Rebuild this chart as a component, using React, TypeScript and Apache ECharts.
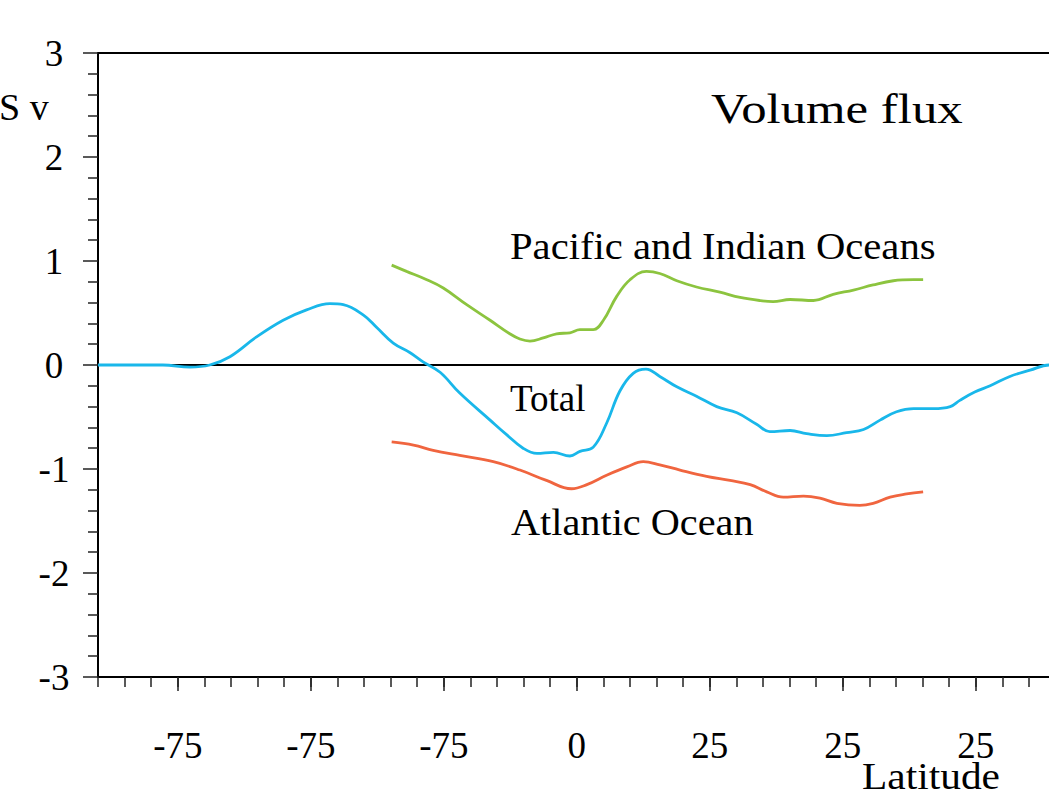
import React, { useEffect, useRef } from "react";
import * as echarts from "echarts";

// Latitude (deg) / volume flux (Sv) pairs
const totalFlux: [number, number][] = [
  [-90, 0], [-84, 0], [-77.8, 0], [-72.7, -0.02], [-69, 0], [-65.2, 0.08],
  [-60.2, 0.27], [-55.2, 0.43], [-50.8, 0.53], [-46.4, 0.59], [-43.9, 0.58],
  [-40.1, 0.48], [-37.6, 0.36], [-34.5, 0.21], [-31.4, 0.12], [-28.9, 0.03],
  [-25.7, -0.07], [-22, -0.27], [-16.3, -0.53], [-13.2, -0.67], [-10.1, -0.8],
  [-7.5, -0.85], [-4.4, -0.84], [-1.3, -0.875], [0.6, -0.83], [3.1, -0.79],
  [5.6, -0.56], [8.1, -0.25], [10.6, -0.08], [13, -0.04], [15.6, -0.11],
  [18.8, -0.21], [22.5, -0.3], [26.3, -0.4], [30.1, -0.46], [33.8, -0.57],
  [36.3, -0.64], [40.1, -0.63], [43.2, -0.66], [47, -0.68], [50.7, -0.65],
  [53.9, -0.62], [57, -0.53], [60.1, -0.45], [63.3, -0.42], [67, -0.42],
  [70.2, -0.4], [72, -0.34], [74.8, -0.26], [77.7, -0.2], [81.4, -0.11],
  [85.2, -0.05], [88.8, 0], [90, 0],
];

const pacificIndian: [number, number][] = [
  [-34.8, 0.96], [-32, 0.9], [-28.2, 0.82], [-25.1, 0.74], [-20.7, 0.58],
  [-16.3, 0.43], [-12.6, 0.3], [-10.7, 0.25], [-8.8, 0.23], [-6.3, 0.26],
  [-3.8, 0.3], [-1.3, 0.31], [0.6, 0.34], [3.1, 0.34], [5, 0.43], [7.5, 0.66],
  [10, 0.82], [13.1, 0.9], [15.6, 0.88], [18.8, 0.81], [22.5, 0.75],
  [26.9, 0.7], [30.7, 0.65], [34.4, 0.62], [36.9, 0.61], [40.1, 0.63],
  [44.5, 0.62], [48.2, 0.68], [52, 0.72], [55.7, 0.77], [59.5, 0.81],
  [63.3, 0.82], [65.1, 0.82],
];

const atlantic: [number, number][] = [
  [-34.8, -0.74], [-30.7, -0.77], [-27, -0.82], [-22, -0.87], [-15.7, -0.93],
  [-10.7, -1.01], [-5.7, -1.11], [-1, -1.19], [1.9, -1.15], [5.6, -1.06],
  [9.4, -0.98], [12.5, -0.93], [15.6, -0.96], [19.4, -1.01], [24.4, -1.07],
  [28.8, -1.11], [32.6, -1.15], [35.7, -1.22], [38.8, -1.27], [42.6, -1.26],
  [45.7, -1.28], [48.9, -1.33], [53.2, -1.35], [55.7, -1.33], [58.9, -1.27],
  [62, -1.24], [65.1, -1.22],
];

// Major x tick positions and the labels printed under them in the reference
const xTickValues = [-75, -50, -25, 0, 25, 50, 75];
const xTickLabels = ["-75", "-75", "-75", "0", "25", "25", "25"];

const FONT = "'Liberation Serif', 'Times New Roman', serif";

export default function App() {
  const ref = useRef<HTMLDivElement>(null);

  useEffect(() => {
    if (!ref.current) return;
    const chart = echarts.init(ref.current, undefined, { renderer: "svg" });
    const lineBase = { type: "line" as const, showSymbol: false, smooth: 0.4, z: 3 };
    chart.setOption({
      animation: false,
      backgroundColor: "#ffffff",
      grid: {
        left: 98,
        top: 53,
        right: 4.4,
        bottom: 120,
        show: true,
        borderColor: "#000",
        borderWidth: 2,
        backgroundColor: "transparent",
      },
      xAxis: [
        {
          type: "value",
          min: -90,
          max: 90,
          interval: 5,
          axisLine: { show: true, onZero: false, lineStyle: { color: "#000", width: 2 } },
          axisTick: {
            show: true,
            length: 14,
            customValues: xTickValues,
            lineStyle: { color: "#222", width: 1.5 },
          },
          axisLabel: {
            show: true,
            customValues: xTickValues,
            formatter: (v: number) => {
              const i = xTickValues.indexOf(Math.round(v));
              return i >= 0 ? xTickLabels[i] : "";
            },
            fontFamily: FONT,
            fontSize: 37,
            color: "#000",
            margin: 68,
            verticalAlign: "middle",
          },
          splitLine: { show: false },
        },
        {
          type: "value",
          min: -90,
          max: 90,
          interval: 5,
          position: "bottom",
          axisLine: { show: false, onZero: false },
          axisTick: { show: true, length: 10, lineStyle: { color: "#222", width: 1.5 } },
          axisLabel: { show: false },
          splitLine: { show: false },
        },
      ],
      yAxis: {
        type: "value",
        min: -3,
        max: 3,
        interval: 1,
        axisLine: { show: true, onZero: false, lineStyle: { color: "#000", width: 2 } },
        axisTick: { show: true, length: 15, lineStyle: { color: "#222", width: 1.5 } },
        minorTick: { show: true, splitNumber: 5, length: 10, lineStyle: { color: "#222", width: 1.5 } },
        axisLabel: {
          fontFamily: FONT,
          fontSize: 37,
          color: "#000",
          align: "center",
          margin: 44,
        },
        splitLine: { show: false },
        minorSplitLine: { show: false },
      },
      series: [
        {
          ...lineBase,
          name: "Total",
          data: totalFlux,
          lineStyle: { color: "#19b7ea", width: 2.8 },
          itemStyle: { color: "#19b7ea" },
          markLine: {
            silent: true,
            symbol: "none",
            label: { show: false },
            lineStyle: { color: "#000", width: 1.8, type: "solid" },
            data: [{ yAxis: 0 }],
            z: 2,
          },
        },
        {
          ...lineBase,
          name: "Pacific and Indian Oceans",
          data: pacificIndian,
          lineStyle: { color: "#8cc43f", width: 2.8 },
          itemStyle: { color: "#8cc43f" },
        },
        {
          ...lineBase,
          name: "Atlantic Ocean",
          data: atlantic,
          lineStyle: { color: "#f0653f", width: 2.8 },
          itemStyle: { color: "#f0653f" },
        },
      ],
      graphic: [
        {
          type: "text",
          x: 711,
          y: 109,
          scaleX: 1.21,
          style: {
            text: "Volume flux",
            font: `42px ${FONT}`,
            fill: "#000",
            textAlign: "left",
            textVerticalAlign: "middle",
          },
        },
        {
          type: "text",
          x: 510,
          y: 246,
          scaleX: 1.07,
          style: {
            text: "Pacific and Indian Oceans",
            font: `38px ${FONT}`,
            fill: "#000",
            textAlign: "left",
            textVerticalAlign: "middle",
          },
        },
        {
          type: "text",
          x: 510,
          y: 398,
          style: {
            text: "Total",
            font: `37px ${FONT}`,
            fill: "#000",
            textAlign: "left",
            textVerticalAlign: "middle",
          },
        },
        {
          type: "text",
          x: 511,
          y: 522,
          scaleX: 1.06,
          style: {
            text: "Atlantic Ocean",
            font: `38px ${FONT}`,
            fill: "#000",
            textAlign: "left",
            textVerticalAlign: "middle",
          },
        },
        {
          type: "text",
          x: 862,
          y: 777,
          scaleX: 1.09,
          style: {
            text: "Latitude",
            font: `38px ${FONT}`,
            fill: "#000",
            textAlign: "left",
            textVerticalAlign: "middle",
          },
        },
        {
          type: "text",
          x: -1,
          y: 107,
          style: {
            text: "S v",
            font: `38px ${FONT}`,
            fill: "#000",
            textAlign: "left",
            textVerticalAlign: "middle",
          },
        },
      ],
    });
    return () => chart.dispose();
  }, []);

  return (
    <div
      style={{
        position: "fixed",
        left: 0,
        top: 0,
        width: 1049,
        height: 797,
        overflow: "hidden",
        background: "#fff",
      }}
    >
      <div ref={ref} style={{ width: 1060, height: 797 }} />
    </div>
  );
}
